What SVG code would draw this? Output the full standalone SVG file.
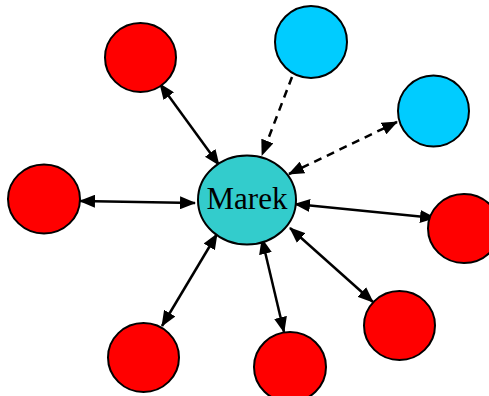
<svg xmlns="http://www.w3.org/2000/svg" width="489" height="396" viewBox="0 0 489 396">
<style>
.n circle,.n ellipse{stroke:#000;stroke-width:2}
.red{fill:#FF0000}
.blue{fill:#00CCFF}
.teal{fill:#33CCCC}
.c line{stroke:#000;stroke-width:2.5}
.c .d{stroke-dasharray:8 6}
.lbl{font-family:"Liberation Serif",serif;font-size:31px;fill:#000}
</style>
<defs>
<marker id="ah" markerUnits="userSpaceOnUse" markerWidth="16" markerHeight="13" refX="15" refY="6.5" orient="auto-start-reverse">
<path d="M0,0 L16,6.5 L0,13 z" fill="#000"/>
</marker>
</defs>
<g id="connectors" class="c">
<line x1="160" y1="84" x2="219" y2="165" marker-start="url(#ah)" marker-end="url(#ah)"/>
<line class="d" x1="292" y1="77" x2="262" y2="155" marker-end="url(#ah)"/>
<line class="d" x1="289" y1="174" x2="397" y2="122" marker-start="url(#ah)" marker-end="url(#ah)"/>
<line x1="80" y1="201" x2="195" y2="203" marker-start="url(#ah)" marker-end="url(#ah)"/>
<line x1="295" y1="204" x2="435" y2="218" marker-start="url(#ah)" marker-end="url(#ah)"/>
<line x1="217" y1="234" x2="162" y2="326" marker-start="url(#ah)" marker-end="url(#ah)"/>
<line x1="262" y1="239" x2="284" y2="332" marker-start="url(#ah)" marker-end="url(#ah)"/>
<line x1="290" y1="228" x2="373" y2="302" marker-start="url(#ah)" marker-end="url(#ah)"/>
</g>
<g id="marek" class="n">
<ellipse class="teal" cx="247" cy="200" rx="49" ry="44.5"/>
<text class="lbl" x="247" y="209" text-anchor="middle">Marek</text>
</g>
<g id="red-top-left" class="n"><ellipse class="red" cx="140.5" cy="57.5" rx="35.5" ry="34.5"/></g>
<g id="blue-top" class="n"><ellipse class="blue" cx="311" cy="42" rx="36" ry="36"/></g>
<g id="blue-right" class="n"><ellipse class="blue" cx="433.5" cy="111" rx="35.5" ry="35.5"/></g>
<g id="red-left" class="n"><ellipse class="red" cx="44" cy="199" rx="36" ry="34.5"/></g>
<g id="red-right" class="n"><ellipse class="red" cx="464" cy="228.5" rx="36" ry="34.5"/></g>
<g id="red-bottom-left" class="n"><ellipse class="red" cx="143.5" cy="357.5" rx="35.5" ry="34.5"/></g>
<g id="red-bottom-mid" class="n"><ellipse class="red" cx="290" cy="367" rx="36" ry="35"/></g>
<g id="red-bottom-right" class="n"><ellipse class="red" cx="399.5" cy="325.5" rx="35.5" ry="34.5"/></g>
</svg>
